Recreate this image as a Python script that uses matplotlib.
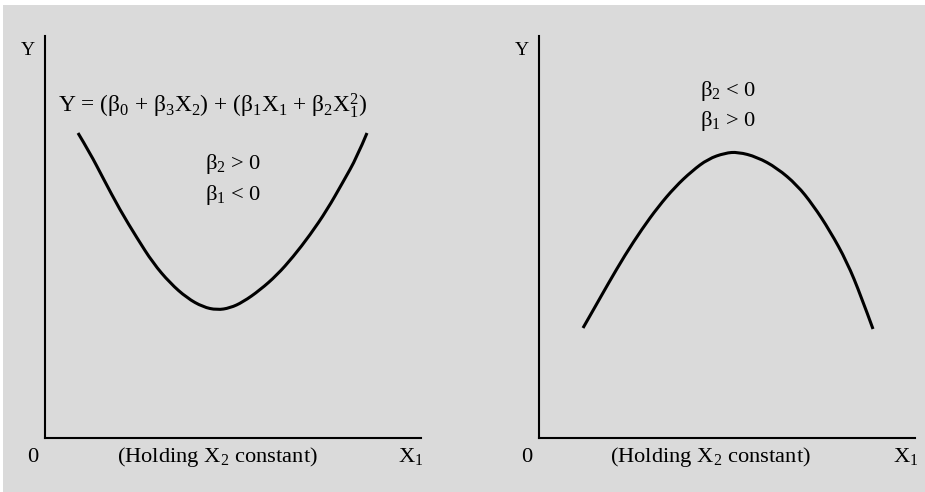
import matplotlib
matplotlib.use("Agg")
import matplotlib.pyplot as plt
from matplotlib.patches import Rectangle, PathPatch
from matplotlib.path import Path

plt.rcParams["font.family"] = ["Liberation Serif", "DejaVu Serif"]
plt.rcParams["mathtext.fontset"] = "custom"
plt.rcParams["mathtext.rm"] = "Liberation Serif"
plt.rcParams["mathtext.it"] = "Liberation Serif:italic"
plt.rcParams["mathtext.bf"] = "Liberation Serif:bold"

# U-shaped curve (beta2 > 0, beta1 < 0), in axis units
u_x = [33, 45, 58, 75, 92, 108, 125, 142, 158, 172, 185, 198, 215, 232, 248, 265, 282, 298, 312, 322]
u_y = [305, 285, 260, 228, 200, 175, 155, 140, 131, 128, 130, 136, 148, 163, 181, 203, 228, 256, 281, 305]

# Inverted-U curve (beta2 < 0, beta1 > 0), in axis units
n_x = [44, 56, 69, 86, 103, 119, 136, 153, 169, 186, 199, 218, 238, 258, 274, 291, 308, 322, 334]
n_y = [110, 131, 154, 183, 209, 231, 251, 267, 279, 285, 286, 281, 270, 253, 233, 207, 176, 142, 109]

equation = r"Y = (β$_0$ + β$_3$X$_2$) + (β$_1$X$_1$ + β$_2$X$_1^2$)"
left_signs = [r"β$_2$ > 0", r"β$_1$ < 0"]
right_signs = [r"β$_2$ < 0", r"β$_1$ > 0"]
x_note = r"(Holding X$_2$ constant)"
x_label = r"X$_1$"

W, H = 925, 492
fig = plt.figure(figsize=(W / 100, H / 100), dpi=100)
fig.patch.set_facecolor("white")
fig.patches.append(Rectangle((3 / W, 0), 1 - 3 / W, 1 - 5 / H,
                             transform=fig.transFigure, facecolor="#dadada",
                             edgecolor="none", zorder=-5))


def px(x, y):
    return x / W, 1 - y / H


def make_axes(x0, x1, y_top, y_bot):
    ax = fig.add_axes([x0 / W, 1 - y_bot / H, (x1 - x0) / W, (y_bot - y_top) / H])
    ax.set_zorder(2)
    ax.set_xlim(0, x1 - x0)
    ax.set_ylim(0, y_bot - y_top)
    ax.patch.set_visible(False)
    for s in ("top", "right"):
        ax.spines[s].set_visible(False)
    for s in ("left", "bottom"):
        ax.spines[s].set_linewidth(1.5)
        ax.spines[s].set_color("black")
    ax.set_xticks([])
    ax.set_yticks([])
    return ax


def smooth_curve(ax, xs, ys, **kw):
    """Draw a smooth quadratic Bezier path guided by the given points."""
    pts = list(zip(xs, ys))
    verts = [pts[0]]
    codes = [Path.MOVETO]
    for i in range(1, len(pts) - 1):
        if i < len(pts) - 2:
            end = ((pts[i][0] + pts[i + 1][0]) / 2, (pts[i][1] + pts[i + 1][1]) / 2)
        else:
            end = pts[-1]
        verts += [pts[i], end]
        codes += [Path.CURVE3, Path.CURVE3]
    ax.add_patch(PathPatch(Path(verts, codes), facecolor="none", **kw))


axL = make_axes(45, 421, 36, 438)
axR = make_axes(539, 915, 36, 438)

curve_kw = dict(edgecolor="black", lw=2.2, capstyle="butt", joinstyle="round")
smooth_curve(axL, u_x, u_y, **curve_kw)
smooth_curve(axR, n_x, n_y, **curve_kw)

fs_y = 14
fs_text = 16.2
fs_eq = 16.8

# axis labels
for xy in [(28, 55), (522, 55)]:
    fig.text(*px(*xy), "Y", fontsize=fs_y, ha="center", va="baseline")
for xo in (0, 494):
    fig.text(*px(33 + xo, 462), "0", fontsize=fs_text, ha="center", va="baseline")
    fig.text(*px(217 + xo - (1 if xo else 0), 462), x_note, fontsize=fs_text,
             ha="center", va="baseline")
    fig.text(*px(398 + xo + (1 if xo else 0), 462), x_label, fontsize=fs_text,
             ha="left", va="baseline")

# equation and coefficient signs
fig.text(*px(58, 112), equation, fontsize=fs_eq, ha="left", va="baseline")
for txt, yb in zip(left_signs, (169, 200)):
    fig.text(*px(233, yb), txt, fontsize=fs_text, ha="center", va="baseline")
for txt, yb in zip(right_signs, (96, 126)):
    fig.text(*px(728, yb), txt, fontsize=fs_text, ha="center", va="baseline")

fig.savefig("out.png", dpi=100, facecolor=fig.get_facecolor())
